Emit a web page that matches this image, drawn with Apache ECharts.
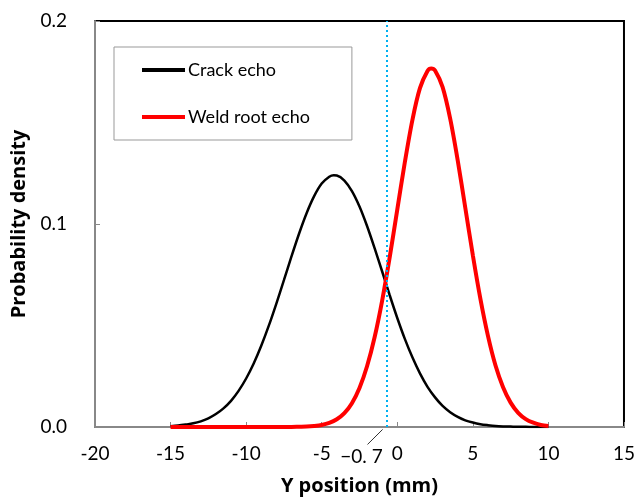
<!DOCTYPE html>
<html>
<head>
<meta charset="utf-8">
<script src="https://cdn.jsdelivr.net/npm/echarts@6/dist/echarts.min.js"></script>
<style>
  html, body { margin: 0; padding: 0; background: #fff; }
  #chart { width: 638px; height: 501px; }
</style>
</head>
<body>
<div id="chart"></div>
<script>
// Y position samples (mm)
const yPositions = [
  -15, -14.5, -14, -13.5, -13, -12.5, -12, -11.5, -11, -10.5,
  -10, -9.5, -9, -8.5, -8, -7.5, -7, -6.5, -6, -5.5,
  -5, -4.5, -4, -3.5, -3, -2.5, -2, -1.5, -1, -0.5,
  0, 0.5, 1, 1.5, 2, 2.5, 3, 3.5, 4, 4.5,
  5, 5.5, 6, 6.5, 7, 7.5, 8, 8.5, 9, 9.5, 10
];

// Probability density of the crack echo
const crackEcho = [
  0.0004, 0.0007, 0.0012, 0.0018, 0.0028, 0.0043, 0.0064, 0.0092, 0.0129, 0.0178,
  0.0239, 0.0313, 0.0400, 0.0499, 0.0608, 0.0723, 0.0840, 0.0952, 0.1053, 0.1137,
  0.1199, 0.1233, 0.1239, 0.1214, 0.1162, 0.1086, 0.0990, 0.0881, 0.0766, 0.0649,
  0.0537, 0.0434, 0.0343, 0.0264, 0.0198, 0.0146, 0.0104, 0.0073, 0.0050, 0.0033,
  0.0022, 0.0014, 0.0009, 0.0005, 0.0003, 0.0002, 0.0001, 0.0001, 0.0000, 0.0000, 0.0000
];

// Probability density of the weld root echo
const weldRootEcho = [
  0, 0, 0, 0, 0, 0, 0, 0, 0, 0,
  0, 0, 0, 0, 0, 0, 0.0000, 0.0001, 0.0002, 0.0005,
  0.0010, 0.0020, 0.0038, 0.0068, 0.0117, 0.0192, 0.0299, 0.0442, 0.0623, 0.0837,
  0.1071, 0.1304, 0.1512, 0.1669, 0.1754, 0.1756, 0.1674, 0.1519, 0.1313, 0.1080,
  0.0846, 0.0631, 0.0449, 0.0303, 0.0196, 0.0120, 0.0070, 0.0039, 0.0021, 0.0010, 0.0005
];

// Peak samples of each distribution: [position, density]
const crackPeak = [-4.2, 0.1240];
const weldRootPeak = [2.25, 0.1766];

// Boundary between the two echo distributions (mm)
const threshold = -0.7;

// Axis ticks
const xTicks = { min: -20, max: 15, step: 5 };
const yTicks = { min: 0, max: 0.2, step: 0.1 };

const FONT = 'Lato, "Open Sans", sans-serif';
const TITLE_FONT = '"Open Sans", Lato, sans-serif';

// Merge the regular samples with the peak sample, ordered by position
const curve = (xs, ys, peak) =>
  xs.map((x, i) => [x, ys[i]]).concat([peak]).sort((a, b) => a[0] - b[0]);

const thresholdText = '\u2212' + Math.abs(threshold).toFixed(1).replace('.', '. ');

// Short leader line running down-left from the boundary to its label
const leader = [
  [threshold - 0.27, -0.0012],
  [threshold - 1.27, -0.0086]
];

const chart = echarts.init(document.getElementById('chart'), null, { renderer: 'canvas' });

chart.setOption({
  animation: false,
  backgroundColor: '#fff',
  textStyle: { fontFamily: FONT },
  grid: {
    left: 95, right: 11, top: 21, bottom: 73.5,
    show: true, borderColor: '#000', borderWidth: 2, backgroundColor: 'transparent'
  },
  legend: {
    orient: 'vertical',
    left: 114, top: 47,
    padding: [14, 42, 14, 28],
    itemGap: 29,
    itemWidth: 43, itemHeight: 4,
    icon: 'rect',
    borderColor: '#999', borderWidth: 1,
    textStyle: { fontFamily: FONT, fontSize: 18, color: '#000', padding: [0, 0, 0, -2] },
    data: ['Crack echo', 'Weld root echo']
  },
  xAxis: {
    type: 'value',
    min: xTicks.min, max: xTicks.max, interval: xTicks.step,
    name: 'Y position (mm)',
    nameLocation: 'middle',
    nameGap: 49,
    nameTextStyle: { fontFamily: TITLE_FONT, fontSize: 20, fontWeight: 'bold', color: '#000' },
    axisLine: { onZero: false, lineStyle: { color: '#888', width: 2 } },
    axisTick: { inside: true, length: 5, lineStyle: { color: '#888', width: 1 } },
    axisLabel: { fontFamily: FONT, fontSize: 19, color: '#000', margin: 17 },
    splitLine: { show: false }
  },
  yAxis: {
    type: 'value',
    min: yTicks.min, max: yTicks.max, interval: yTicks.step,
    name: 'Probability density',
    nameLocation: 'middle',
    nameGap: 65,
    nameTextStyle: { fontFamily: TITLE_FONT, fontSize: 20, fontWeight: 'bold', color: '#000' },
    axisLine: { show: true, onZero: false, lineStyle: { color: '#888', width: 2 } },
    axisTick: { show: true, inside: true, length: 5, lineStyle: { color: '#888', width: 1 } },
    axisLabel: {
      fontFamily: FONT, fontSize: 19, color: '#000', margin: 28,
      formatter: v => v.toFixed(1)
    },
    splitLine: { show: false }
  },
  series: [
    {
      name: 'Crack echo',
      type: 'line',
      data: curve(yPositions, crackEcho, crackPeak),
      smooth: 0.3,
      showSymbol: false,
      color: '#000',
      lineStyle: { color: '#000', width: 2.5 },
      z: 3,
      markLine: {
        silent: true,
        symbol: ['none', 'none'],
        label: { show: false },
        lineStyle: { color: '#00b0f0', width: 2, type: [2, 3] },
        data: [{ xAxis: threshold }]
      }
    },
    {
      name: 'Weld root echo',
      type: 'line',
      data: curve(yPositions, weldRootEcho, weldRootPeak),
      smooth: 0.3,
      showSymbol: false,
      color: '#ff0000',
      lineStyle: { color: '#ff0000', width: 4 },
      z: 4
    },
    {
      // label for the boundary value, hung off a short leader line
      name: 'threshold',
      type: 'line',
      data: leader,
      clip: false,
      silent: true,
      showSymbol: false,
      symbol: 'none',
      lineStyle: { color: '#333', width: 1 },
      z: 5,
      label: { show: false },
      endLabel: {
        show: true,
        formatter: () => thresholdText,
        fontFamily: FONT, fontSize: 19, color: '#000',
        align: 'center', verticalAlign: 'top',
        offset: [-14, 3]
      }
    }
  ]
});
</script>
</body>
</html>
